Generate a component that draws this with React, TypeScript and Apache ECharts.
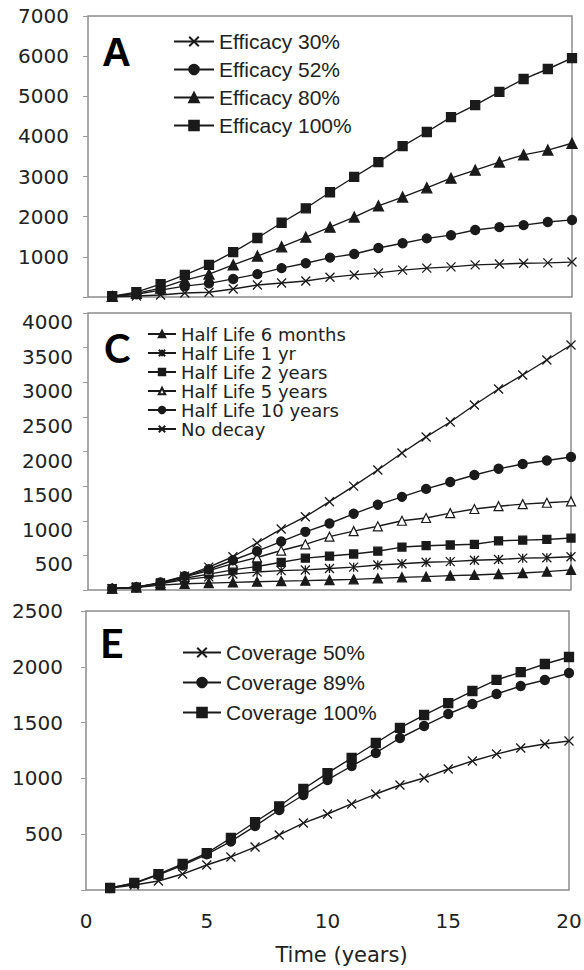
import React, { useEffect, useRef } from "react";
import * as echarts from "echarts";

// Time axis (years)
const years = [1, 2, 3, 4, 5, 6, 7, 8, 9, 10, 11, 12, 13, 14, 15, 16, 17, 18, 19, 20];
const xTicks = [0, 5, 10, 15, 20];

// Panel A: vaccine efficacy
const efficacyNames = ["Efficacy 30%", "Efficacy 52%", "Efficacy 80%", "Efficacy 100%"];
const efficacy30 = [5, 25, 50, 100, 120, 200, 300, 350, 400, 490, 550, 600, 670, 720, 750, 800, 820, 840, 850, 870];
const efficacy52 = [10, 70, 170, 270, 340, 450, 570, 720, 840, 980, 1070, 1220, 1340, 1460, 1540, 1670, 1740, 1790, 1870, 1920];
const efficacy80 = [15, 90, 220, 420, 570, 800, 1020, 1250, 1490, 1740, 1990, 2270, 2490, 2720, 2960, 3160, 3360, 3540, 3660, 3830];
const efficacy100 = [20, 120, 320, 550, 800, 1120, 1470, 1850, 2210, 2610, 2990, 3360, 3760, 4110, 4480, 4780, 5110, 5430, 5680, 5950];
const yTicksA = [1000, 2000, 3000, 4000, 5000, 6000, 7000];

// Panel C: waning half life
const halfLifeNames = ["Half Life 6 months", "Half Life 1 yr", "Half Life 2 years", "Half Life 5 years", "Half Life 10 years", "No decay"];
const halfLife6m = [20, 35, 70, 90, 100, 110, 120, 128, 135, 144, 154, 168, 183, 193, 207, 217, 230, 245, 265, 290];
const halfLife1y = [20, 40, 90, 150, 190, 230, 260, 280, 290, 310, 330, 360, 380, 400, 410, 430, 440, 460, 465, 480];
const halfLife2y = [20, 40, 100, 170, 230, 290, 340, 400, 460, 490, 520, 560, 620, 640, 650, 660, 710, 720, 730, 750];
const halfLife5y = [20, 40, 100, 190, 280, 380, 470, 570, 660, 770, 850, 920, 1000, 1040, 1110, 1170, 1210, 1240, 1260, 1280];
const halfLife10y = [20, 40, 110, 200, 300, 430, 560, 700, 840, 960, 1100, 1230, 1345, 1460, 1560, 1660, 1750, 1820, 1870, 1920];
const noDecay = [20, 40, 100, 200, 330, 480, 680, 880, 1058, 1275, 1500, 1733, 1978, 2210, 2426, 2671, 2902, 3105, 3321, 3538];
const yTicksC = [500, 1000, 1500, 2000, 2500, 3000, 3500, 4000];

// Panel E: coverage
const coverageNames = ["Coverage 50%", "Coverage 89%", "Coverage 100%"];
const coverage50 = [18, 45, 81, 143, 224, 296, 385, 493, 600, 681, 771, 860, 941, 1004, 1084, 1156, 1218, 1272, 1308, 1335];
const coverage89 = [18, 60, 135, 220, 320, 435, 573, 717, 851, 986, 1111, 1228, 1362, 1470, 1577, 1667, 1756, 1828, 1882, 1944];
const coverage100 = [18, 63, 143, 233, 331, 466, 609, 750, 905, 1048, 1183, 1317, 1452, 1568, 1675, 1783, 1882, 1953, 2025, 2088];
const yTicksE = [500, 1000, 1500, 2000, 2500];

const CROSS = "path://M0,0L10,10M10,0L0,10";
const STAR = "path://M0,0L10,10M10,0L0,10M5,0L5,10";

const INK = "#1a1a1a";
const TICK_FONT = "'DejaVu Sans', sans-serif";
const ARIAL = "'Liberation Sans', Arial, sans-serif";

type Marker = { symbol: string; size: number; open?: boolean };

function makeSeries(name: string, values: number[], axis: number, m: Marker) {
  return {
    type: "line",
    name,
    xAxisIndex: axis,
    yAxisIndex: axis,
    data: years.map((t, i) => [t, values[i]]),
    symbol: m.symbol,
    symbolSize: m.size,
    showAllSymbol: true,
    lineStyle: { color: INK, width: 1.4 },
    itemStyle: {
      color: m.open ? "#ffffff" : INK,
      borderColor: INK,
      borderWidth: m.open ? 1.2 : 1.3,
      opacity: 1,
    },
    emphasis: { disabled: true },
    z: 3,
  };
}

// Labels may sit a little below their ticks (verticalAlign top + lineHeight)
function yAxis(grid: number, max: number, interval: number, ticks: number[], drop: number, margin: number) {
  return {
    type: "value",
    gridIndex: grid,
    min: 0,
    max,
    interval,
    splitLine: { show: false },
    axisLine: { show: false },
    axisTick: { show: true, length: 5, lineStyle: { color: "#9a9a9a", width: 1 } },
    axisLabel: {
      show: true,
      margin,
      fontFamily: TICK_FONT,
      fontSize: 20,
      color: "#222",
      verticalAlign: drop > 0 ? "top" : "middle",
      lineHeight: drop > 0 ? drop * 2 : 20,
      formatter: (v: number) => (ticks.includes(v) ? String(v) : ""),
    },
  };
}

function xAxis(grid: number, withLabels: boolean) {
  return {
    type: "value",
    gridIndex: grid,
    min: 0,
    max: 20,
    interval: 5,
    splitLine: { show: false },
    axisLine: { show: false },
    axisTick: { show: false },
    axisLabel: {
      show: withLabels,
      margin: 21,
      fontFamily: TICK_FONT,
      fontSize: 20,
      color: "#222",
      formatter: (v: number) => (xTicks.includes(v) ? String(v) : ""),
    },
    name: withLabels ? "Time (years)" : "",
    nameLocation: "middle",
    nameGap: 54,
    nameTextStyle: {
      fontFamily: TICK_FONT,
      fontSize: 21,
      color: "#222",
      padding: [0, 0, 0, 28],
    },
  };
}

const gridBox = { show: true, borderColor: "#8c8c8c", borderWidth: 1.5, backgroundColor: "transparent" };

export default function App() {
  const ref = useRef<HTMLDivElement>(null);

  useEffect(() => {
    if (!ref.current) return;
    const chart = echarts.init(ref.current, undefined, { renderer: "svg" });

    const option = {
      animation: false,
      backgroundColor: "#ffffff",
      grid: [
        { ...gridBox, left: 88, right: 12, top: 16, height: 281, outerBoundsMode: "none" },
        { ...gridBox, left: 88, right: 13, top: 313, height: 277, outerBoundsMode: "none" },
        { ...gridBox, left: 86, right: 15, top: 611, height: 279, outerBoundsMode: "none" },
      ],
      xAxis: [xAxis(0, false), xAxis(1, false), xAxis(2, true)],
      yAxis: [
        yAxis(0, 7000, 1000, yTicksA, 0, 19),
        yAxis(1, 4000, 500, yTicksC, 9, 15),
        yAxis(2, 2500, 500, yTicksE, 0, 23),
      ],
      title: [
        { text: "A", left: 102, top: 32, padding: 0, textStyle: { fontFamily: ARIAL, fontWeight: "bold", fontSize: 40, color: "#000" } },
        { text: "C", left: 104, top: 328, padding: 0, textStyle: { fontFamily: "Lato, sans-serif", fontWeight: "bold", fontSize: 40, color: "#000" } },
        { text: "E", left: 100, top: 622, padding: 0, textStyle: { fontFamily: "Lato, sans-serif", fontWeight: "bold", fontSize: 41, color: "#000" } },
      ],
      legend: [
        {
          data: efficacyNames,
          orient: "vertical",
          left: 173,
          top: 31,
          padding: 0,
          itemWidth: 40,
          itemHeight: 12,
          itemGap: 7,
          selectedMode: false,
          textStyle: { fontFamily: ARIAL, fontSize: 21, color: "#222" },
        },
        {
          data: halfLifeNames,
          orient: "vertical",
          left: 147,
          top: 325,
          padding: 0,
          itemWidth: 28,
          itemHeight: 8,
          itemGap: 1,
          selectedMode: false,
          textStyle: { fontFamily: TICK_FONT, fontSize: 18, color: "#222" },
        },
        {
          data: coverageNames,
          orient: "vertical",
          left: 182,
          top: 642,
          padding: 0,
          itemWidth: 38,
          itemHeight: 12,
          itemGap: 9,
          selectedMode: false,
          textStyle: { fontFamily: ARIAL, fontSize: 21, color: "#222" },
        },
      ],
      series: [
        makeSeries(efficacyNames[0], efficacy30, 0, { symbol: CROSS, size: 9 }),
        makeSeries(efficacyNames[1], efficacy52, 0, { symbol: "circle", size: 9 }),
        makeSeries(efficacyNames[2], efficacy80, 0, { symbol: "triangle", size: 10 }),
        makeSeries(efficacyNames[3], efficacy100, 0, { symbol: "rect", size: 9 }),

        makeSeries(halfLifeNames[0], halfLife6m, 1, { symbol: "triangle", size: 9 }),
        makeSeries(halfLifeNames[1], halfLife1y, 1, { symbol: STAR, size: 9 }),
        makeSeries(halfLifeNames[2], halfLife2y, 1, { symbol: "rect", size: 8 }),
        makeSeries(halfLifeNames[3], halfLife5y, 1, { symbol: "triangle", size: 9, open: true }),
        makeSeries(halfLifeNames[4], halfLife10y, 1, { symbol: "circle", size: 9 }),
        makeSeries(halfLifeNames[5], noDecay, 1, { symbol: CROSS, size: 9 }),

        makeSeries(coverageNames[0], coverage50, 2, { symbol: CROSS, size: 9 }),
        makeSeries(coverageNames[1], coverage89, 2, { symbol: "circle", size: 9 }),
        makeSeries(coverageNames[2], coverage100, 2, { symbol: "rect", size: 9 }),
      ],
    };

    chart.setOption(option as any);
    return () => chart.dispose();
  }, []);

  return (
    <div
      ref={ref}
      style={{ position: "fixed", left: 0, top: 0, width: 584, height: 970, background: "#fff" }}
    />
  );
}
